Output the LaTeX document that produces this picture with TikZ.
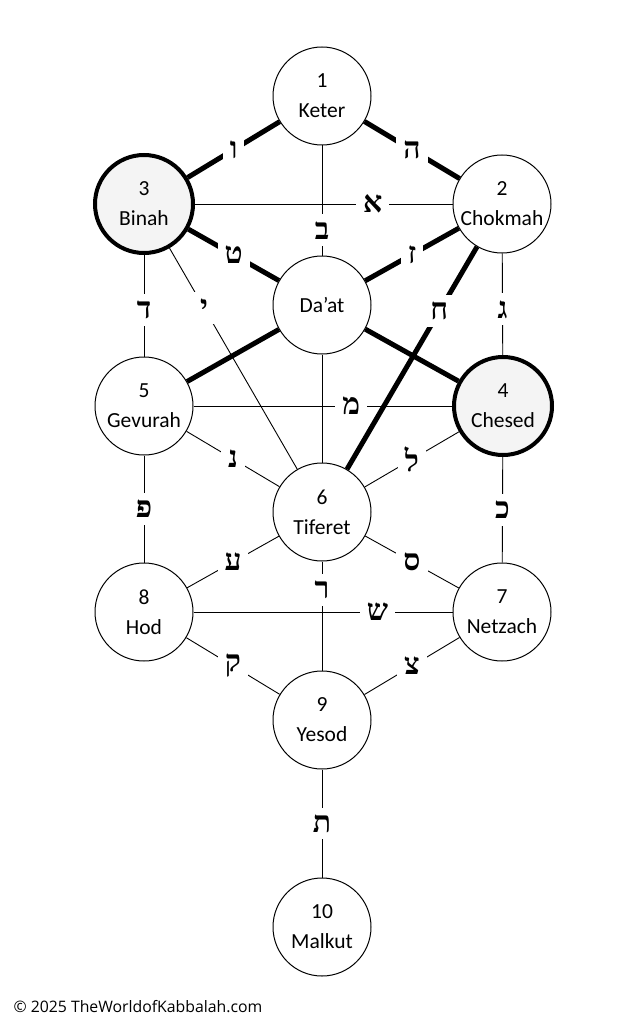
\documentclass[tikz,border=0pt]{standalone}
\usepackage{fontspec}
\setmainfont{Carlito}
\newfontfamily\hebfont[Script=Hebrew]{Liberation Serif}
\newfontfamily\notefont{Open Sans}
\usetikzlibrary{positioning}

\begin{document}
\begin{tikzpicture}[x=1pt,y=-1pt,
    sefira/.style={circle, draw, line width=1pt, minimum size=98pt, inner sep=0pt,
      align=center, font=\fontsize{21.5}{30}\selectfont},
    heavy/.style={sefira, line width=4pt, fill=gray!9},
    thinpath/.style={line width=0.9pt},
    thickpath/.style={line width=5pt},
    letter/.style={fill=white, inner sep=7pt, font=\hebfont\bfseries\fontsize{30}{30}\selectfont}]
  \useasboundingbox (0,0) rectangle (633,1024);

  % the sefirot
  \node[sefira] (keter)   at (322, 96)  {1\\Keter};
  \node[heavy]  (binah)   at (144, 204) {3\\Binah};
  \node[sefira] (chokmah) at (502, 204) {2\\Chokmah};
  \node[sefira] (daat)    at (322, 305) {Da’at};
  \node[sefira] (gevurah) at (144, 406) {5\\Gevurah};
  \node[heavy]  (chesed)  at (503, 406) {4\\Chesed};
  \node[sefira] (tiferet) at (322, 512) {6\\Tiferet};
  \node[sefira] (hod)     at (144, 612) {8\\Hod};
  \node[sefira] (netzach) at (502, 612) {7\\Netzach};
  \node[sefira] (yesod)   at (322, 720) {9\\Yesod};
  \node[sefira] (malkut)  at (322, 927) {10\\Malkut};

  % thick paths
  \draw[thickpath] (keter) -- node[letter] (vav) {ו} (binah);
  \draw[thickpath] (keter) -- node[letter] (he) {ה} (chokmah);
  \draw[thickpath] (binah) -- node[letter] (tet) {ט} (daat);
  \draw[thickpath] (chokmah) -- node[letter] (zayin) {ז} (daat);
  \draw[thickpath] (daat) -- (gevurah);
  \draw[thickpath] (daat) -- (chesed);

  % thin paths
  \draw[thinpath] (binah) -- node[letter, pos=.69] (alef) {א} (chokmah);
  \draw[thinpath] (keter) -- node[letter, pos=.77] (bet) {ב} (daat);
  \draw[thinpath] (daat) -- (tiferet);
  \draw[thinpath] (binah) -- node[letter, pos=.54] (dalet) {ד} (gevurah);
  \draw[thinpath] (binah) -- node[letter, pos=.27] (yod) {י} (tiferet);
  \draw[thinpath] (chokmah) -- node[letter, pos=.55] (gimel) {ג} (chesed);
  \draw[thinpath] (gevurah) -- node[letter, pos=.61] (mem) {מ} (chesed);
  \draw[thinpath] (gevurah) -- node[letter] (nun) {נ} (tiferet);
  \draw[thinpath] (chesed) -- node[letter] (lamed) {ל} (tiferet);
  \draw[thinpath] (gevurah) -- node[letter] (pe) {פ} (hod);
  \draw[thinpath] (chesed) -- node[letter] (kaf) {כ} (netzach);
  \draw[thinpath] (tiferet) -- node[letter] (ayin) {ע} (hod);
  \draw[thinpath] (tiferet) -- node[letter] (samekh) {ס} (netzach);
  \draw[thinpath] (tiferet) -- node[letter, pos=.26] (resh) {ר} (yesod);
  \draw[thinpath] (hod) -- node[letter, pos=.71] (shin) {ש} (netzach);
  \draw[thinpath] (hod) -- node[letter] (qof) {ק} (yesod);
  \draw[thinpath] (netzach) -- node[letter] (tsadi) {צ} (yesod);
  \draw[thinpath] (yesod) -- node[letter] (tav) {ת} (malkut);

  % crossing path on top
  \draw[thickpath] (chokmah) -- node[letter, pos=.29] (chet) {ח} (tiferet);

  \node[anchor=west, font=\notefont\fontsize{15.8}{16}\selectfont] (credit) at (10, 1007)
    {© 2025 TheWorldofKabbalah.com};
\end{tikzpicture}
\end{document}
